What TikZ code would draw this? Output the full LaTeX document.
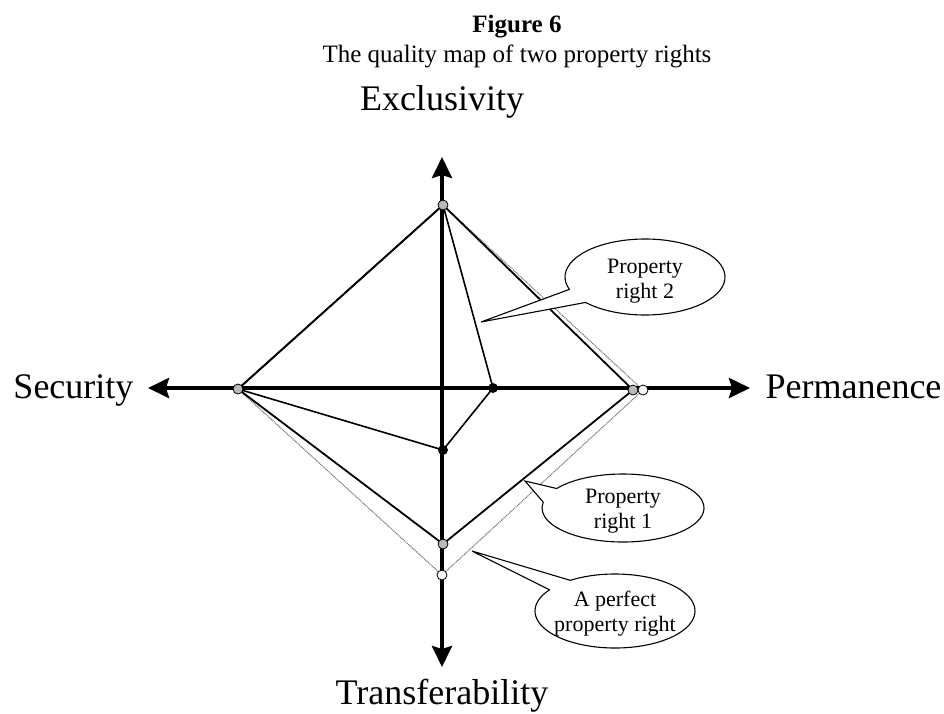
\documentclass[tikz,border=0pt]{standalone}
\usepackage{fontspec}
\setmainfont{Liberation Serif}
\usetikzlibrary{arrows.meta,calc}

% oval callout: #1 centre, #2 x radius, #3 y radius, #4 gap start angle, #5 gap end angle, #6 tip
\newcommand{\ovalcallout}[6]{%
  \draw[callout] (#6) -- ($(#1)+(#4:#2 and #3)$)
    arc[start angle=#4, end angle={#5+360}, x radius=#2, y radius=#3] -- cycle;}

\begin{document}
\begin{tikzpicture}[x=1pt,y=-1pt,
  axis/.style={line width=4pt, -{Stealth[length=21pt,width=20pt,inset=3pt]}},
  right2/.style={line width=1.6pt, black, line join=round},
  right1/.style={line width=1.8pt, black, line join=round},
  perfect/.style={line width=1.1pt, black!55, dash pattern=on 1pt off 0.8pt},
  callout/.style={draw=black, line width=1.1pt, fill=white, line join=miter},
  ctext/.style={font=\fontsize{22}{25}\selectfont, align=center},
  axlabel/.style={font=\fontsize{36}{42}\selectfont},
  dot/.style={circle, draw=black, line width=0.8pt, minimum size=10pt, inner sep=0pt},
  greydot/.style={dot, fill=gray!55},
  whitedot/.style={dot, fill=gray!8},
  blackdot/.style={dot, fill=black, minimum size=9pt}]

\useasboundingbox (0,0) rectangle (944,713);

% caption
\node[font=\bfseries\fontsize{25}{30}\selectfont, anchor=base] (fig) at (517,32) {Figure 6};
\node[font=\fontsize{25}{30}\selectfont, anchor=base] (cap) at (517,62) {The quality map of two property rights};

% axis ends and centre
\coordinate (O) at (442,388);
\coordinate (axN) at (442,157);
\coordinate (axS) at (442,667);
\coordinate (axW) at (148,388);
\coordinate (axE) at (750,388);

% rating points
\coordinate (E)  at (443,205);
\coordinate (S)  at (238,389);
\coordinate (C)  at (493,388);
\coordinate (V)  at (443,450);
\coordinate (R1) at (633,390);
\coordinate (R0) at (643,390);
\coordinate (B1) at (443,544);
\coordinate (B0) at (442,575);

% the three quality polygons
\draw[perfect] (E) -- (R0) -- (B0) -- (S) -- cycle;
\draw[right1] (E) -- (R1) -- (B1) -- (S) -- cycle;
\draw[right2] (E) -- (C) -- (V) -- (S) -- cycle;

% callouts
\coordinate (c2) at (645,277);
\coordinate (t2) at (481,322);
\ovalcallout{c2}{80}{38}{161}{138}{t2}
\node[ctext] (n2) at (645,281) {Property\\right 2};

\coordinate (c1) at (623,508);
\coordinate (t1) at (525,481);
\ovalcallout{c1}{81}{34}{215}{190}{t1}
\node[ctext] (n1) at (623,511) {Property\\right 1};

\coordinate (c0) at (615,611);
\coordinate (t0) at (472,551);
\ovalcallout{c0}{80}{37}{236}{215}{t0}
\node[ctext] (n0) at (615,614) {A perfect\\property right};

% axes
\draw[axis] (O) -- (axN);
\draw[axis] (O) -- (axS);
\draw[axis] (O) -- (axW);
\draw[axis] (O) -- (axE);

% axis labels
\node[axlabel, anchor=base] (lE) at (442,110) {Exclusivity};
\node[axlabel, anchor=base] (lT) at (442,704) {Transferability};
\node[axlabel, anchor=base east] (lS) at (137,398) {Security};
\node[axlabel, anchor=base west] (lP) at (762,398) {Permanence};

% points
\node[greydot] (dE) at (E) {};
\node[greydot] (dS) at (S) {};
\node[blackdot] (dC) at (C) {};
\node[blackdot] (dV) at (V) {};
\node[greydot] (dR1) at (R1) {};
\node[whitedot] (dR0) at (R0) {};
\node[greydot] (dB1) at (B1) {};
\node[whitedot] (dB0) at (B0) {};

\end{tikzpicture}
\end{document}
